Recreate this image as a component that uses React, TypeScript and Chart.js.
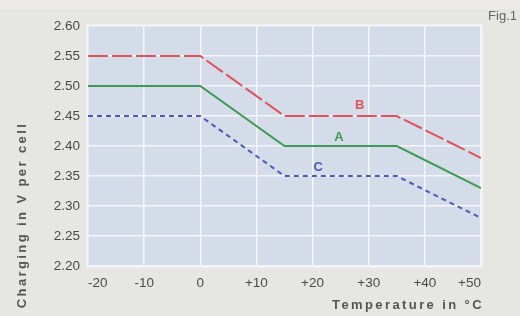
import React, { useEffect, useRef } from "react";
import { Chart, registerables } from "chart.js";

Chart.register(...registerables);

const temps = [-20, 0, 15, 35, 50];
const seriesA = [2.5, 2.5, 2.4, 2.4, 2.33];
const seriesB = [2.55, 2.55, 2.45, 2.45, 2.38];
const seriesC = [2.45, 2.45, 2.35, 2.35, 2.28];
const curveLabels = ["A", "B", "C"];
const labelX = [24.7, 28.4, 21];
const labelY = [2.415, 2.467, 2.365];
const labelColors = ["#3e9a55", "#e0525c", "#4a5cb5"];

const BG = "#e6e6e2";
const PLOT = "#d4dbe9";
const TEXT = "#4a4a4a";
const FONT = "Liberation Sans, Arial, sans-serif";

export default function App() {
  const ref = useRef<HTMLCanvasElement>(null);
  useEffect(() => {
    document.body.style.margin = "0";
    const toPts = (ys: number[]) => temps.map((t, i) => ({ x: t, y: ys[i] }));
    const decor = {
      id: "decor",
      beforeDraw(chart: any) {
        const { ctx, chartArea: a } = chart;
        ctx.save();
        ctx.fillStyle = BG;
        ctx.fillRect(0, 0, chart.width, chart.height);
        ctx.fillStyle = "#ecebe8";
        ctx.fillRect(0, 0, chart.width, 9);
        ctx.fillStyle = "#eef0f4";
        ctx.fillRect(a.left - 2, a.top - 2, a.right - a.left + 4, a.bottom - a.top + 4);
        ctx.fillStyle = PLOT;
        ctx.fillRect(a.left, a.top, a.right - a.left, a.bottom - a.top);
        ctx.restore();
      },
      afterDraw(chart: any) {
        const { ctx, chartArea: a, scales } = chart;
        ctx.save();
        ctx.font = `bold 13px ${FONT}`;
        ctx.textAlign = "center";
        ctx.textBaseline = "middle";
        curveLabels.forEach((l, i) => {
          ctx.fillStyle = labelColors[i];
          ctx.fillText(l, scales.x.getPixelForValue(labelX[i]), scales.y.getPixelForValue(labelY[i]));
        });
        ctx.fillStyle = "#666";
        ctx.font = `13px ${FONT}`;
        ctx.textAlign = "right";
        ctx.fillText("Fig.1", 517, 16);
        ctx.fillStyle = "#555";
        (ctx as any).letterSpacing = "2.4px";
        ctx.font = `bold 13px ${FONT}`;
        ctx.fillText("Temperature in °C", a.right + 3, 305);
        ctx.translate(22, 215);
        ctx.rotate(-Math.PI / 2);
        ctx.textAlign = "center";
        ctx.fillText("Charging in V per cell", 0, 0);
        ctx.restore();
      },
    };
    const chart = new Chart(ref.current!, {
      type: "line",
      data: {
        datasets: [
          { label: "B", data: toPts(seriesB), borderColor: "#e0525c", borderWidth: 2, borderDash: [20, 4], pointRadius: 0, tension: 0 },
          { label: "A", data: toPts(seriesA), borderColor: "#3e9a55", borderWidth: 2, pointRadius: 0, tension: 0 },
          { label: "C", data: toPts(seriesC), borderColor: "#4a5cb5", borderWidth: 2, borderDash: [5, 4], pointRadius: 0, tension: 0 },
        ],
      },
      options: {
        animation: false,
        responsive: false,
        layout: { padding: { top: 26, right: 39, left: 0, bottom: 0 } },
        plugins: { legend: { display: false }, tooltip: { enabled: false } },
        scales: {
          x: {
            type: "linear",
            min: -20,
            max: 50,
            grid: { color: "#f4f6fa", lineWidth: 1.5, drawTicks: false },
            border: { display: false },
            ticks: {
              stepSize: 10,
              padding: 9,
              align: "inner",
              color: TEXT,
              font: { size: 13.5, family: FONT },
              callback: (v: any) => (v > 0 ? "+" + v : String(v)),
            },
            afterFit: (s: any) => { s.height = 50; },
          },
          y: {
            min: 2.2,
            max: 2.6,
            grid: { color: "#f4f6fa", lineWidth: 1.5, drawTicks: false },
            border: { display: false },
            ticks: {
              stepSize: 0.05,
              padding: 8,
              color: TEXT,
              font: { size: 13.5, family: FONT },
              callback: (v: any) => Number(v).toFixed(2),
            },
            afterFit: (s: any) => { s.width = 88; },
          },
        },
      },
      plugins: [decor],
    } as any);
    return () => chart.destroy();
  }, []);
  return <canvas ref={ref} width={520} height={316} style={{ display: "block" }} />;
}
